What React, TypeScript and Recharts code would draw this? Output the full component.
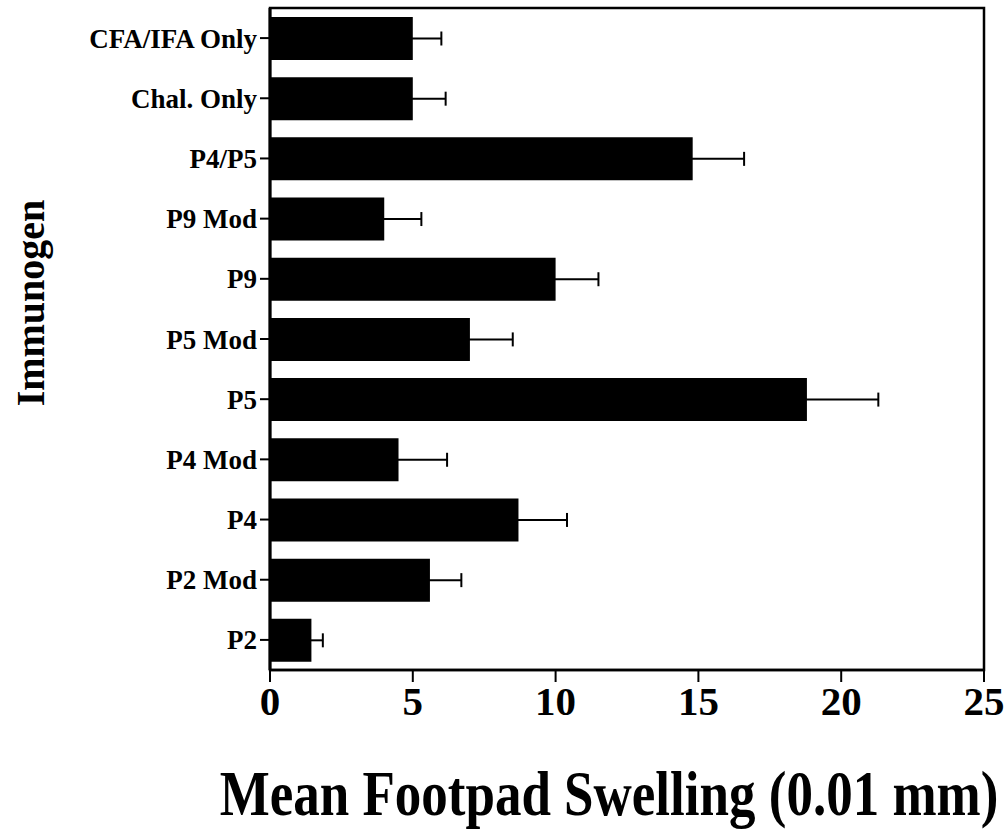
import { Bar, BarChart, ErrorBar, Label, ReferenceArea, XAxis, YAxis } from "recharts";

const immunogens = [
  "CFA/IFA Only",
  "Chal. Only",
  "P4/P5",
  "P9 Mod",
  "P9",
  "P5 Mod",
  "P5",
  "P4 Mod",
  "P4",
  "P2 Mod",
  "P2",
];
const swelling = [5.0, 5.0, 14.8, 4.0, 10.0, 7.0, 18.8, 4.5, 8.7, 5.6, 1.45];
const swellingErr = [1.0, 1.15, 1.8, 1.3, 1.5, 1.5, 2.5, 1.7, 1.7, 1.1, 0.4];
const xTicks = [0, 5, 10, 15, 20, 25];

const serif = '"Liberation Serif", "Times New Roman", serif';

const data = immunogens.map((name, i) => ({ name, value: swelling[i], err: swellingErr[i] }));

function XTitle({ viewBox }: any) {
  const cx = viewBox.x + viewBox.width / 2 - 18;
  const y = viewBox.y + 145;
  return (
    <text
      transform={`translate(${cx},${y}) scale(1,1.2)`}
      textAnchor="middle"
      fontFamily={serif}
      fontWeight="bold"
      fontSize={53}
      fill="#000"
    >
      Mean Footpad Swelling (0.01 mm)
    </text>
  );
}

function YTitle({ viewBox }: any) {
  const x = viewBox.x + 44;
  const y = viewBox.y + viewBox.height / 2 - 36;
  return (
    <text
      transform={`translate(${x},${y}) rotate(-90)`}
      textAnchor="middle"
      fontFamily={serif}
      fontWeight="bold"
      fontSize={40}
      fill="#000"
    >
      Immunogen
    </text>
  );
}

export default function App() {
  return (
    <div style={{ position: "absolute", left: 0, top: 0, background: "#fff" }}>
      <BarChart
        width={1008}
        height={837}
        data={data}
        layout="vertical"
        margin={{ top: 8, right: 24, bottom: 97, left: 0 }}
        barSize={43}
      >
        <XAxis
          type="number"
          domain={[0, 25]}
          ticks={xTicks}
          height={70}
          tickSize={12}
          tickMargin={4}
          axisLine={{ stroke: "#000", strokeWidth: 2.5 }}
          tickLine={{ stroke: "#000", strokeWidth: 2 }}
          tick={{ fill: "#000", fontFamily: serif, fontWeight: "bold", fontSize: 41 }}
        >
          <Label content={XTitle} />
        </XAxis>
        <YAxis
          type="category"
          dataKey="name"
          width={270}
          tickSize={10}
          tickMargin={3}
          interval={0}
          axisLine={{ stroke: "#000", strokeWidth: 3 }}
          tickLine={{ stroke: "#000", strokeWidth: 2 }}
          tick={{ fill: "#000", fontFamily: serif, fontWeight: "bold", fontSize: 27 }}
        >
          <Label content={YTitle} />
        </YAxis>
        <ReferenceArea x1={0} x2={25} fill="none" stroke="#000" strokeWidth={2.5} ifOverflow="visible" />
        <Bar dataKey="value" fill="#000" isAnimationActive={false}>
          <ErrorBar dataKey="err" direction="x" width={7} stroke="#000" strokeWidth={2} isAnimationActive={false} />
        </Bar>
      </BarChart>
    </div>
  );
}
